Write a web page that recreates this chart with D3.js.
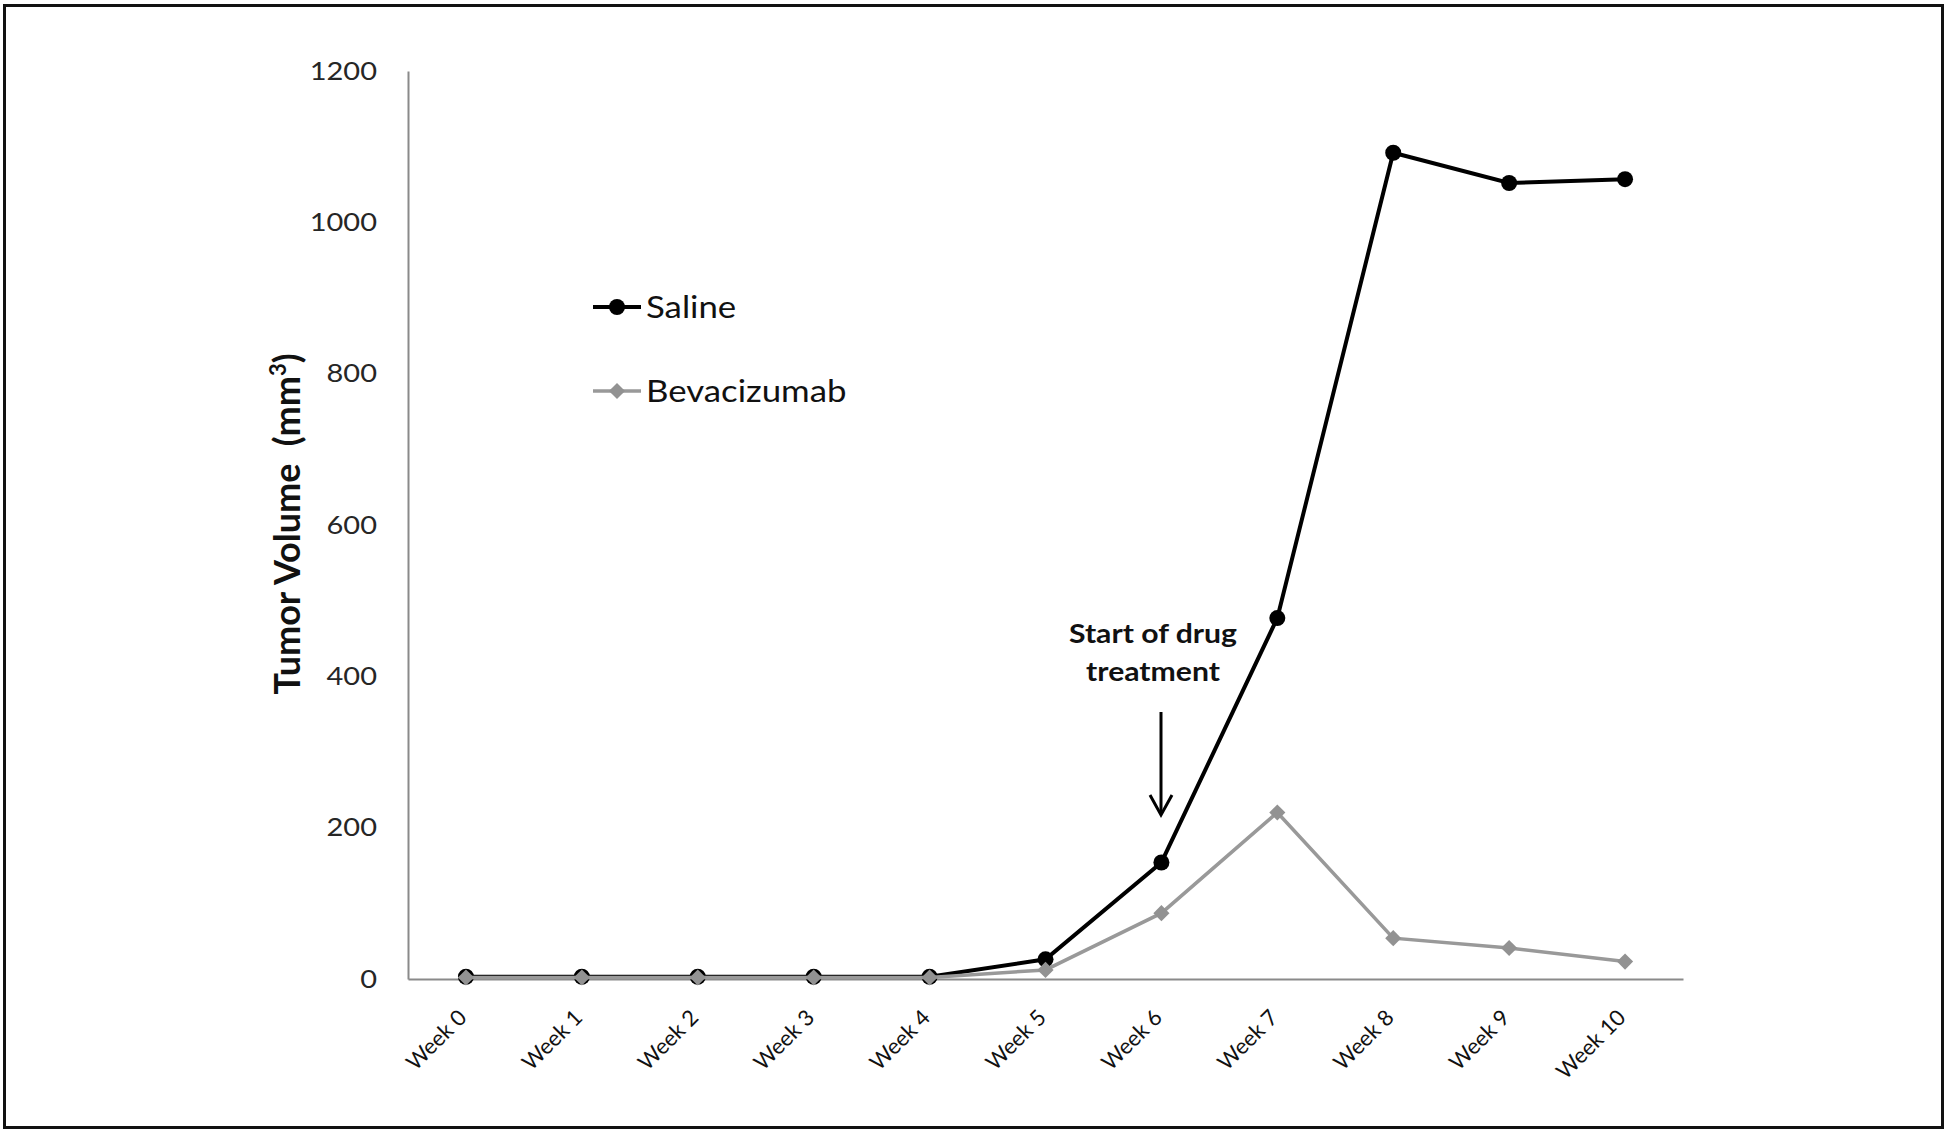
<!DOCTYPE html>
<html>
<head>
<meta charset="utf-8">
<script src="https://cdn.jsdelivr.net/npm/d3@7"></script>
<style>
  body { margin: 0; background: #fff; }
  text { font-family: Lato, "Open Sans", sans-serif; }
</style>
</head>
<body>
<div id="chart"></div>
<script>
// Data
const weeks = ['Week 0', 'Week 1', 'Week 2', 'Week 3', 'Week 4', 'Week 5',
    'Week 6', 'Week 7', 'Week 8', 'Week 9', 'Week 10'];
const salineValues = [3, 3, 3, 3, 3, 26, 154, 477, 1092, 1052, 1057];
const bevacizumabValues = [2, 2, 2, 2, 2, 12, 87, 220, 54, 41, 23];
const yTicks = [0, 200, 400, 600, 800, 1000, 1200];

// the original picture is a little stretched sideways
const stretch = 1.16;

function draw() {
    // Dimensions
    let dimensions = {
        width: 1950,
        height: 1135,
        margin: {
            top: 71,
            bottom: 156,
            left: 408,
            right: 267,
        },
    };
    dimensions.ctrWidth = dimensions.width - dimensions.margin.left - dimensions.margin.right;
    dimensions.ctrHeight = dimensions.height - dimensions.margin.top - dimensions.margin.bottom;

    const svg = d3
        .select('#chart')
        .append('svg')
        .attr('width', dimensions.width)
        .attr('height', dimensions.height)
        ;

    // outer frame
    svg.append('rect')
        .attr('x', 4.5)
        .attr('y', 5.5)
        .attr('width', 1938)
        .attr('height', 1122)
        .attr('fill', 'none')
        .attr('stroke', '#111')
        .attr('stroke-width', 3)
        ;

    const ctr = svg
        .append('g')
        .attr('transform', `translate(${dimensions.margin.left}, ${dimensions.margin.top})`)
        ;

    // Scales
    const xScale = d3
        .scaleBand()
        .domain(weeks)
        .range([0, dimensions.ctrWidth])
        ;
    const xPos = (w) => xScale(w) + xScale.bandwidth() / 2;

    const yScale = d3
        .scaleLinear()
        .domain([0, 1200])
        .range([dimensions.ctrHeight, 0])
        ;

    // Axes
    const yAxis = d3
        .axisLeft(yScale)
        .tickValues(yTicks)
        .tickSize(0)
        .tickFormat(d3.format('d'))
        ;
    const yAxisGroup = ctr.append('g').call(yAxis);
    yAxisGroup.select('.domain').attr('stroke', '#8a8a8a').attr('stroke-width', 2);
    yAxisGroup.selectAll('text')
        .attr('x', -31 / stretch)
        .attr('transform', `scale(${stretch}, 1)`)
        .attr('font-size', 25)
        .attr('fill', '#262626')
        .style('font-family', 'Lato, sans-serif')
        ;

    const xAxis = d3
        .axisBottom(xScale)
        .tickSize(0)
        .tickFormat('')
        ;
    const xAxisGroup = ctr
        .append('g')
        .attr('transform', `translate(0, ${dimensions.ctrHeight})`)
        .call(xAxis)
        ;
    xAxisGroup.select('.domain').attr('stroke', '#8a8a8a').attr('stroke-width', 2);

    xAxisGroup
        .selectAll('.week-label')
        .data(weeks)
        .join('text')
        .attr('class', 'week-label')
        .attr('transform', d => `translate(${xPos(d) + 2}, 40) rotate(-45)`)
        .attr('text-anchor', 'end')
        .attr('font-size', 22)
        .attr('fill', '#111')
        .text(d => d)
        ;

    // Y title
    svg.append('text')
        .attr('transform', 'translate(300, 524) rotate(-90)')
        .attr('text-anchor', 'middle')
        .attr('font-size', 36)
        .attr('font-weight', 'bold')
        .attr('fill', '#111')
        .html('Tumor Volume&#160;&#160;(mm<tspan dy="-14" font-size="22">3</tspan><tspan dy="14">)</tspan>')
        ;

    // Lines
    const line = (vals) => d3.line()
        .x((d, i) => xPos(weeks[i]))
        .y(d => yScale(d))(vals);

    const diamond = d3.symbol().type(d3.symbolSquare).size(130);

    ctr.append('path')
        .attr('d', line(salineValues))
        .attr('fill', 'none')
        .attr('stroke', '#000')
        .attr('stroke-width', 4)
        ;
    ctr.append('g')
        .selectAll('circle')
        .data(salineValues)
        .join('circle')
        .attr('cx', (d, i) => xPos(weeks[i]))
        .attr('cy', d => yScale(d))
        .attr('r', 8)
        .attr('fill', '#000')
        ;

    ctr.append('path')
        .attr('d', line(bevacizumabValues))
        .attr('fill', 'none')
        .attr('stroke', '#999')
        .attr('stroke-width', 3.5)
        ;
    ctr.append('g')
        .selectAll('path')
        .data(bevacizumabValues)
        .join('path')
        .attr('d', diamond)
        .attr('transform', (d, i) => `translate(${xPos(weeks[i])}, ${yScale(d)}) rotate(45)`)
        .attr('fill', '#929292')
        ;

    // Legend
    const legend = svg.append('g');
    const legendItems = [
        { name: 'Saline', y: 307, color: '#000', marker: 'circle' },
        { name: 'Bevacizumab', y: 391, color: '#999', marker: 'diamond' },
    ];
    legendItems.forEach(item => {
        legend.append('line')
            .attr('x1', 593).attr('x2', 641)
            .attr('y1', item.y).attr('y2', item.y)
            .attr('stroke', item.color)
            .attr('stroke-width', item.marker === 'circle' ? 4 : 3.5)
            ;
        if (item.marker === 'circle') {
            legend.append('circle')
                .attr('cx', 617).attr('cy', item.y).attr('r', 8)
                .attr('fill', item.color);
        } else {
            legend.append('path')
                .attr('d', diamond)
                .attr('transform', `translate(617, ${item.y}) rotate(45)`)
                .attr('fill', '#929292');
        }
        legend.append('text')
            .attr('transform', `translate(646, ${item.y + 11}) scale(${stretch}, 1)`)
            .attr('font-size', 30)
            .attr('fill', '#111')
            .text(item.name)
            ;
    });

    // Annotation
    const note = svg.append('g');
    const noteLines = [
        { text: 'Start of drug', y: 643 },
        { text: 'treatment', y: 681 },
    ];
    noteLines.forEach(l => {
        note.append('text')
            .attr('transform', `translate(1153, ${l.y}) scale(${stretch}, 1)`)
            .attr('text-anchor', 'middle')
            .attr('font-size', 26)
            .attr('font-weight', 'bold')
            .attr('fill', '#111')
            .text(l.text)
            ;
    });
    note.append('line')
        .attr('x1', 1161).attr('x2', 1161)
        .attr('y1', 712).attr('y2', 813)
        .attr('stroke', '#000')
        .attr('stroke-width', 3)
        ;
    note.append('path')
        .attr('d', 'M1150,795 L1161,815 L1172,795')
        .attr('fill', 'none')
        .attr('stroke', '#000')
        .attr('stroke-width', 3)
        ;
}

draw();
</script>
</body>
</html>
